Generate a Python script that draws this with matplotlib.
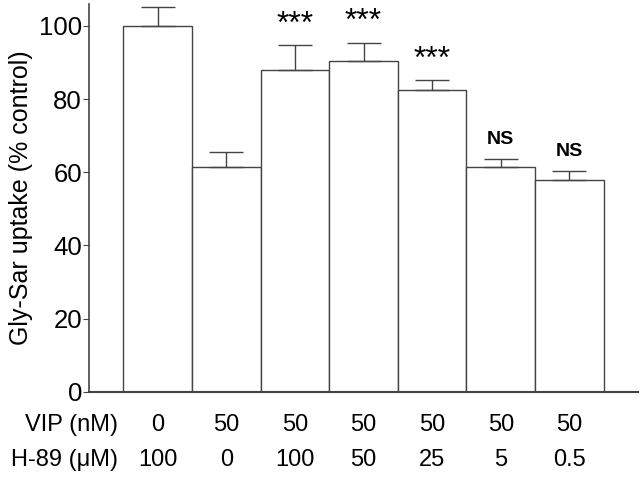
import matplotlib.pyplot as plt
from matplotlib.transforms import blended_transform_factory

plt.rcParams['font.family'] = ['Liberation Sans', 'DejaVu Sans']

# data
uptake = [100, 61.4, 87.8, 90.5, 82.5, 61.4, 58.0]
err = [5.1, 4.0, 6.9, 4.9, 2.7, 2.3, 2.4]
vip = ['0', '50', '50', '50', '50', '50', '50']
h89 = ['100', '0', '100', '50', '25', '5', '0.5']
marks = ['', '', '***', '***', '***', 'NS', 'NS']

fig = plt.figure(figsize=(6.4, 4.78), dpi=100)
ax = fig.add_axes([0.139, 0.180, 0.858, 0.812])

x = list(range(len(uptake)))
edge = '#444444'
ax.bar(x, uptake, width=1.0, color='white', edgecolor=edge, linewidth=1.0, zorder=2)
ax.errorbar(x, uptake, yerr=[[0] * len(err), err], fmt='none', ecolor=edge,
            elinewidth=1.0, capsize=12, capthick=1.0, zorder=3)

# significance marks above the error bars
for xi, v, e, m in zip(x, uptake, err, marks):
    if m == '***':
        ax.annotate(m, (xi, v + e), xytext=(0, 4), textcoords='offset points',
                    ha='center', va='bottom', fontsize=23)
    elif m == 'NS':
        ax.annotate(m, (xi, v + e), xytext=(0, 8), textcoords='offset points',
                    ha='center', va='bottom', fontsize=14, fontweight='bold')

ax.set_xlim(-1, 7)
ax.set_ylim(0, 106)
ax.set_yticks([0, 20, 40, 60, 80, 100])
ax.tick_params(axis='y', labelsize=18.5, length=4, color=edge, pad=1)
ax.set_xticks([])
ax.spines['top'].set_visible(False)
ax.spines['right'].set_visible(False)
ax.spines['left'].set_color(edge)
ax.spines['bottom'].set_color(edge)
ax.spines['left'].set_linewidth(1.2)
ax.spines['bottom'].set_linewidth(1.5)
ax.set_ylabel('Gly-Sar uptake (% control)', fontsize=18, labelpad=4)

# condition rows below the axis
tr = blended_transform_factory(ax.transData, fig.transFigure)
rows = [(vip, 'VIP (nM)', 1 - 425 / 478), (h89, 'H-89 (\u03bcM)', 1 - 460 / 478)]
for vals, name, yy in rows:
    for xi, s in zip(x, vals):
        ax.text(xi, yy, s, transform=tr, ha='center', va='center', fontsize=17)
    fig.text(118 / 640, yy, name, ha='right', va='center', fontsize=17)

fig.savefig('out.png', dpi=100)
